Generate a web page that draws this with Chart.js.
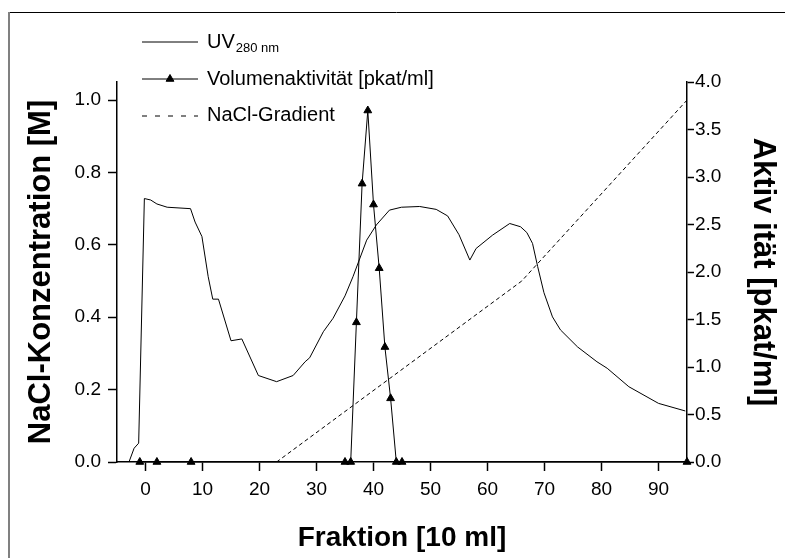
<!DOCTYPE html>
<html>
<head>
<meta charset="utf-8">
<script src="https://cdn.jsdelivr.net/npm/chart.js@4.4.1/dist/chart.umd.min.js"></script>
<style>
  html, body { margin: 0; padding: 0; background: #fff; }
  canvas { display: block; }
</style>
</head>
<body>
<canvas id="chart" width="785" height="558"></canvas>
<script>
// UV 280 nm trace (plotted against the left scale)
const uvX = [-2.9, -2.0, -1.2, -0.2, 0.9, 2.0, 3.8, 7.9, 8.7, 9.9, 11.0, 11.8, 12.8, 15.0, 16.9, 19.8, 23.0, 25.9, 28.0, 28.8, 31.2, 32.9, 35.0, 36.4, 38.8, 40.5, 42.8, 44.9, 48.1, 51.0, 53.0, 55.0, 56.9, 58.0, 60.9, 63.9, 65.8, 66.9, 67.9, 68.8, 69.9, 71.4, 72.8, 75.8, 79.2, 81.0, 84.8, 90.0, 94.7];
const uvY = [0, 0.038, 0.052, 0.728, 0.724, 0.713, 0.704, 0.70, 0.663, 0.623, 0.512, 0.45, 0.45, 0.335, 0.34, 0.239, 0.222, 0.239, 0.277, 0.288, 0.36, 0.397, 0.459, 0.512, 0.613, 0.655, 0.696, 0.704, 0.706, 0.698, 0.68, 0.628, 0.558, 0.59, 0.627, 0.659, 0.65, 0.634, 0.604, 0.54, 0.468, 0.401, 0.365, 0.318, 0.277, 0.259, 0.208, 0.162, 0.141];

// Volumenaktivitaet [pkat/ml] (right scale)
const actX = [-1, 2, 8, 35, 36, 37, 38, 39, 40, 41, 42, 43, 44, 45, 95];
const actY = [0, 0, 0, 0, 0, 1.47, 2.93, 3.70, 2.71, 2.04, 1.21, 0.67, 0, 0, 0];

// NaCl gradient [M] (left scale)
const naclX = [23, 66, 95];
const naclY = [0, 0.5, 1.0];

const xTicks = [0, 10, 20, 30, 40, 50, 60, 70, 80, 90];
const leftTicks = [0, 0.2, 0.4, 0.6, 0.8, 1.0];
const rightTicks = [0, 0.5, 1.0, 1.5, 2.0, 2.5, 3.0, 3.5, 4.0];

const pts = (xs, ys) => xs.map((x, i) => ({ x: x, y: ys[i] }));

const FAMILY = '"Liberation Sans", Arial, sans-serif';
const tickFont = { family: FAMILY, size: 19 };
const titleFont = { family: FAMILY, size: 28, weight: 'bold' };
const sideTitleFont = { family: FAMILY, size: 31, weight: 'bold' };

const axisGrid = { drawOnChartArea: false, drawTicks: true, tickLength: 9, tickColor: '#000', tickWidth: 1.5, color: '#000' };
const axisBorder = { color: '#000', width: 1.5 };

// page frame: thin black line on top, grey line on the left
const framePlugin = {
  id: 'frame',
  beforeDraw(chart) {
    const { ctx } = chart;
    ctx.save();
    ctx.fillStyle = '#fff';
    ctx.fillRect(0, 0, chart.width, chart.height);
    ctx.strokeStyle = '#000';
    ctx.lineWidth = 1;
    ctx.beginPath();
    ctx.moveTo(8, 12.5);
    ctx.lineTo(chart.width, 12.5);
    ctx.stroke();
    ctx.strokeStyle = '#808080';
    ctx.lineWidth = 2;
    ctx.beginPath();
    ctx.moveTo(9, 12);
    ctx.lineTo(9, chart.height);
    ctx.stroke();
    ctx.restore();
  }
};

// legend drawn by hand because of the subscript in UV280 nm
const legendPlugin = {
  id: 'handLegend',
  afterDraw(chart) {
    const { ctx } = chart;
    const x0 = 142, x1 = 198, tx = 207;
    const rows = [42, 79, 115];
    ctx.save();
    ctx.strokeStyle = '#000';
    ctx.fillStyle = '#000';
    ctx.lineWidth = 1;
    ctx.textBaseline = 'middle';
    ctx.textAlign = 'left';

    // UV
    ctx.beginPath();
    ctx.moveTo(x0, rows[0]); ctx.lineTo(x1, rows[0]);
    ctx.stroke();
    ctx.font = '20px ' + FAMILY;
    ctx.fillText('UV', tx, rows[0]);
    const w = ctx.measureText('UV').width;
    ctx.font = '13px ' + FAMILY;
    ctx.fillText('280 nm', tx + w + 1, rows[0] + 6);

    // activity
    ctx.beginPath();
    ctx.moveTo(x0, rows[1]); ctx.lineTo(x1, rows[1]);
    ctx.stroke();
    Chart.helpers.drawPoint(ctx, { pointStyle: 'triangle', radius: 4.5, rotation: 0, borderWidth: 1 }, (x0 + x1) / 2, rows[1]);
    ctx.fillStyle = '#000';
    ctx.font = '20px ' + FAMILY;
    ctx.fillText('Volumenaktivität [pkat/ml]', tx, rows[1]);

    // NaCl
    ctx.setLineDash([5, 8]);
    ctx.beginPath();
    ctx.moveTo(x0, rows[2] + 1); ctx.lineTo(x1, rows[2] + 1);
    ctx.stroke();
    ctx.setLineDash([]);
    ctx.fillText('NaCl-Gradient', tx, rows[2]);
    ctx.restore();
  }
};

new Chart(document.getElementById('chart').getContext('2d'), {
  type: 'scatter',
  data: {
    datasets: [
      {
        label: 'UV280 nm',
        data: pts(uvX, uvY),
        yAxisID: 'yL',
        showLine: true,
        borderColor: '#000',
        borderWidth: 1,
        pointRadius: 0,
        tension: 0
      },
      {
        label: 'Volumenaktivität [pkat/ml]',
        data: pts(actX, actY),
        yAxisID: 'yR',
        showLine: true,
        borderColor: '#000',
        backgroundColor: '#000',
        borderWidth: 1,
        pointStyle: 'triangle',
        pointRadius: 4.5,
        clip: false,
        tension: 0
      },
      {
        label: 'NaCl-Gradient',
        data: pts(naclX, naclY),
        yAxisID: 'yL',
        showLine: true,
        borderColor: '#000',
        borderWidth: 1,
        borderDash: [4, 3],
        pointRadius: 0,
        tension: 0
      }
    ]
  },
  options: {
    responsive: false,
    animation: false,
    devicePixelRatio: 1,
    layout: { padding: { top: 82, left: 0, right: 0, bottom: 0 } },
    plugins: {
      legend: { display: false },
      tooltip: { enabled: false }
    },
    scales: {
      x: {
        type: 'linear',
        min: -5,
        max: 95,
        afterBuildTicks: s => { s.ticks = xTicks.map(v => ({ value: v })); },
        afterFit: s => { s.height = 96; },
        grid: axisGrid,
        border: axisBorder,
        ticks: { color: '#000', font: tickFont, padding: 7, autoSkip: false, maxRotation: 0 },
        title: { display: true, text: 'Fraktion [10 ml]', color: '#000', font: titleFont, padding: { top: 0, bottom: 3 } }
      },
      yL: {
        type: 'linear',
        position: 'left',
        min: 0,
        max: 1.05,
        afterBuildTicks: s => { s.ticks = leftTicks.map(v => ({ value: v })); },
        afterFit: s => { s.width = 117; },
        grid: axisGrid,
        border: axisBorder,
        ticks: { color: '#000', font: tickFont, padding: 7, autoSkip: false, callback: v => v.toFixed(1) },
        title: { display: true, text: 'NaCl-Konzentration [M]', color: '#000', font: sideTitleFont, padding: { top: 23, bottom: 0 } }
      },
      yR: {
        type: 'linear',
        position: 'right',
        min: 0,
        max: 4,
        afterBuildTicks: s => { s.ticks = rightTicks.map(v => ({ value: v })); },
        afterFit: s => { s.width = 98; },
        grid: Object.assign({}, axisGrid, { tickLength: 7 }),
        border: axisBorder,
        ticks: { color: '#000', font: tickFont, padding: 1, autoSkip: false, callback: v => v.toFixed(1) },
        title: { display: true, text: 'Aktiv ität [pkat/ml]', color: '#000', font: sideTitleFont, padding: { top: 4, bottom: 0 } }
      }
    }
  },
  plugins: [framePlugin, legendPlugin]
});
</script>
</body>
</html>
